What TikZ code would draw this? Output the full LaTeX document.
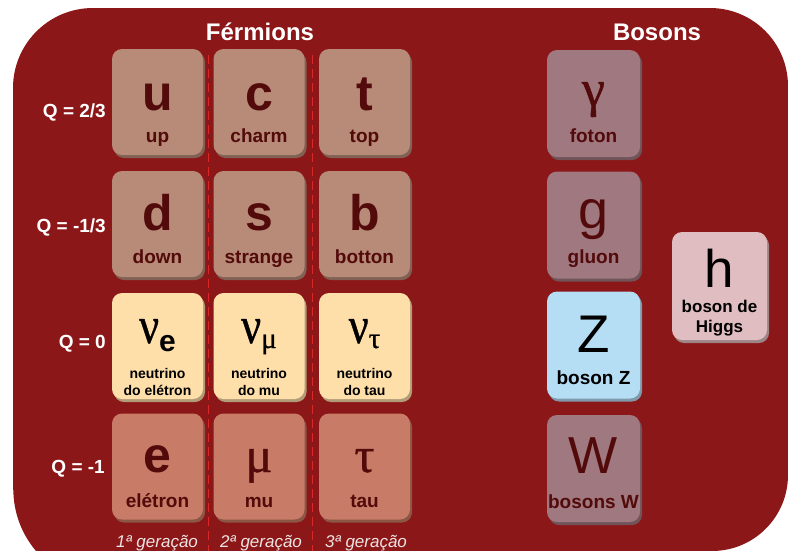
\documentclass[tikz,border=0pt]{standalone}
\usepackage{graphicx}
\usepackage{fontspec}
\setmainfont{Liberation Sans}
\newfontfamily\grk[FakeBold=0.8]{Liberation Serif}
\usetikzlibrary{shadows}
\definecolor{bgred}{HTML}{8C1718}
\definecolor{quark}{HTML}{B78B78}
\definecolor{neutr}{HTML}{FEDFAA}
\definecolor{lepton}{HTML}{C87B66}
\definecolor{boson}{HTML}{A07880}
\definecolor{zbos}{HTML}{B5DEF5}
\definecolor{higgs}{HTML}{E0BDC0}
\definecolor{ink}{HTML}{520A0A}
\definecolor{sepc}{HTML}{D82828}
\definecolor{genc}{HTML}{EDE4E4}
\newcommand\fs[1]{\fontsize{#1}{#1}\selectfont}
\begin{document}
\begin{tikzpicture}[x=1pt,y=-1pt,
 pbox/.style={fill=#1, rounded corners=10pt, minimum width=91pt, minimum height=106pt, inner sep=0pt,
   drop shadow={shadow xshift=2pt, shadow yshift=-3pt, fill=#1!70!black, opacity=1}},
 bbox/.style={pbox=#1, minimum width=93pt, minimum height=107pt},
 sym/.style={anchor=base, inner sep=0pt, text=ink, font=\fs{50}\bfseries},
 gsym/.style={anchor=base, inner sep=0pt, text=ink, font=\fs{50}\grk},
 ssym/.style={anchor=base, inner sep=0pt, text=ink, font=\fs{53}},
 lbl/.style={anchor=base, inner sep=0pt, text=ink, font=\fs{19}\bfseries},
 nlbl/.style={anchor=base, inner sep=0pt, text=black, font=\fs{14}\bfseries},
 hlbl/.style={anchor=base, inner sep=0pt, text=black, font=\fs{17}\bfseries},
 qlbl/.style={anchor=base east, inner sep=0pt, text=white, font=\fs{19}\bfseries},
 title/.style={anchor=base, inner sep=0pt, text=white, font=\fs{24}\bfseries},
 gen/.style={anchor=base, inner sep=0pt, text=genc, font=\fs{17}\itshape},
 sepline/.style={sepc, line width=0.9pt, dash pattern=on 9pt off 5pt}
]
\useasboundingbox (0,0) rectangle (788,550);
% background
\fill[bgred] (13,490) -- (13,88) arc[start angle=180,end angle=90,radius=80pt]
  -- (710,8) arc[start angle=90,end angle=0,radius=78pt]
  -- (788,475) arc[start angle=0,end angle=-90,radius=76pt]
  -- (36,551) arc[start angle=220.3,end angle=180,radius=95.5pt] -- cycle;
% separators
\coordinate (s1a) at (208,55); \coordinate (s1b) at (208,551);
\coordinate (s2a) at (312.5,55); \coordinate (s2b) at (312.5,551);
\draw[sepline] (s1a) -- (s1b);
\draw[sepline] (s2a) -- (s2b);
% titles
\node[title] (tf) at (260,40) {Férmions};
\node[title] (tb) at (657,40) {Bosons};
% charge labels
\node[qlbl] (q1) at (106,117) {Q = 2/3};
\node[qlbl] (q2) at (106,232) {Q = -1/3};
\node[qlbl] (q3) at (106,348) {Q = 0};
\node[qlbl] (q4) at (105,473) {Q = -1};
% quarks row 1
\node[pbox=quark] (u) at (157.5,102) {};
\node[sym] (us) at (157.5,110) {u};
\node[lbl] (ul) at (157.5,142) {up};
\node[pbox=quark] (c) at (259,102) {};
\node[sym] (cs) at (259,110) {c};
\node[lbl] (cl) at (259,142) {charm};
\node[pbox=quark] (t) at (364.5,102) {};
\node[sym] (ts) at (364.5,110) {t};
\node[lbl] (tl) at (364.5,142) {top};
% quarks row 2
\node[pbox=quark] (d) at (157.5,224) {};
\node[sym] (ds) at (157.5,230) {d};
\node[lbl] (dl) at (157.5,263) {down};
\node[pbox=quark] (s) at (259,224) {};
\node[sym] (ss) at (259,230) {s};
\node[lbl] (sl) at (259,263) {strange};
\node[pbox=quark] (b) at (364.5,224) {};
\node[sym] (bs) at (364.5,230) {b};
\node[lbl] (bl) at (364.5,263) {botton};
% neutrinos
\node[pbox=neutr] (ne) at (157.5,346) {};
\node[gsym, text=black] (nes) at (157.5,343) {\fs{52}\scalebox{.85}[1]{ν}\raisebox{-8pt}{\rmfamily\bfseries\fs{30}e}};
\node[nlbl] (nel1) at (157.5,378) {neutrino};
\node[nlbl] (nel2) at (157.5,395) {do elétron};
\node[pbox=neutr] (nm) at (259,346) {};
\node[gsym, text=black] (nms) at (259,343) {\fs{52}\scalebox{.85}[1]{ν}\raisebox{-5pt}{\fs{29}μ}};
\node[nlbl] (nml1) at (259,378) {neutrino};
\node[nlbl] (nml2) at (259,395) {do mu};
\node[pbox=neutr] (nt) at (364.5,346) {};
\node[gsym, text=black] (nts) at (364.5,343) {\fs{52}\scalebox{.85}[1]{ν}\raisebox{-5pt}{\fs{29}τ}};
\node[nlbl] (ntl1) at (364.5,378) {neutrino};
\node[nlbl] (ntl2) at (364.5,395) {do tau};
% charged leptons
\node[pbox=lepton] (e) at (157.5,466.5) {};
\node[sym] (es) at (157.5,472) {e};
\node[lbl] (el) at (157.5,507) {elétron};
\node[pbox=lepton] (mu) at (259,466.5) {};
\node[gsym] (mus) at (259,472) {μ};
\node[lbl] (mul) at (259,507) {mu};
\node[pbox=lepton] (tau) at (364.5,466.5) {};
\node[gsym] (taus) at (364.5,472) {τ};
\node[lbl] (taul) at (364.5,507) {tau};
% generations
\node[gen] (g1) at (157,547) {1ª geração};
\node[gen] (g2) at (261,547) {2ª geração};
\node[gen] (g3) at (366,547) {3ª geração};
% bosons
\node[bbox=boson] (gam) at (593.5,103.5) {};
\node[gsym, font=\fs{52}\grk] (gams) at (593.5,106) {γ};
\node[lbl] (gaml) at (593.5,142) {foton};
\node[bbox=boson] (glu) at (593.5,225) {};
\node[ssym, font=\fs{54}] (glus) at (593.5,228) {g};
\node[lbl] (glul) at (593.5,263) {gluon};
\node[bbox=zbos] (zb) at (593.5,345) {};
\node[ssym, text=black] (zbs) at (593.5,352) {Z};
\node[lbl, text=black] (zbl) at (593.5,384) {boson Z};
\node[bbox=boson] (wb) at (593.5,468.5) {};
\node[ssym, font=\fs{52}] (wbs) at (593.5,473) {W};
\node[lbl] (wbl) at (593.5,508) {bosons W};
\node[pbox=higgs, minimum width=95pt, minimum height=108pt] (hb) at (719.5,286) {};
\node[ssym, text=black] (hbs) at (719.5,287) {h};
\node[hlbl] (hbl1) at (719.5,312) {boson de};
\node[hlbl] (hbl2) at (719.5,332) {Higgs};
\end{tikzpicture}
\end{document}
